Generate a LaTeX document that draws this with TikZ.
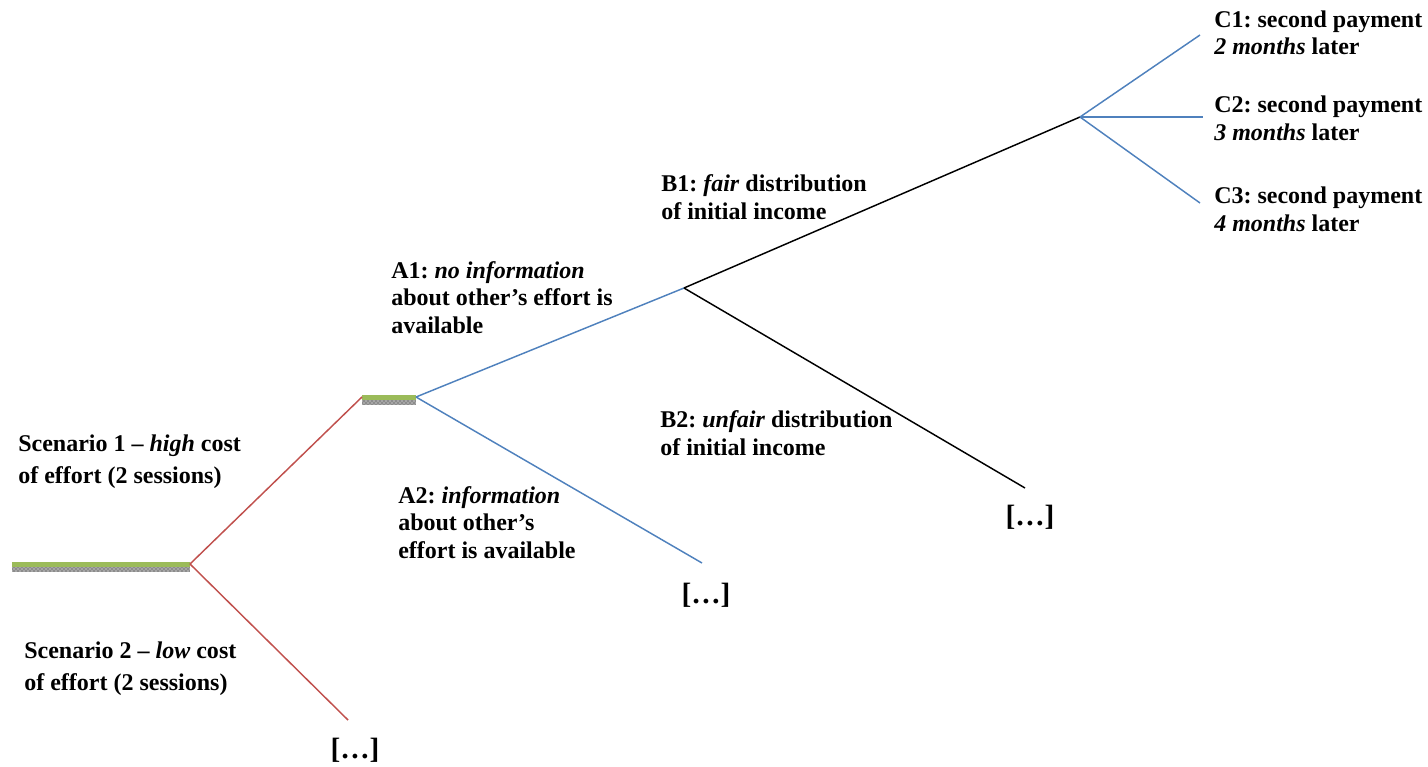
\documentclass[tikz,border=0pt]{standalone}
\usepackage{fontspec}
\setmainfont{Liberation Serif}
\usetikzlibrary{patterns}
\definecolor{redline}{RGB}{192,80,77}
\definecolor{blueline}{RGB}{79,129,189}
\definecolor{greenbar}{RGB}{155,187,89}
\frenchspacing
\tikzset{
  lbl/.style={anchor=base west, inner sep=0pt, align=left, font=\fontsize{18}{20.5}\selectfont\bfseries},
  widelbl/.style={lbl, font=\fontsize{18}{23.5}\selectfont\bfseries},
  more/.style={inner sep=0pt, font=\fontsize{22}{26}\selectfont\bfseries},
  redl/.style={redline, line width=1.1pt},
  bluel/.style={blueline, line width=1.1pt},
  blackl/.style={black, line width=1.1pt},
  shade/.style={fill=black!45, postaction={pattern=crosshatch dots, pattern color=white}}
}
\begin{document}
\begin{tikzpicture}[x=0.75pt, y=-0.75pt]
\useasboundingbox (0,0) rectangle (1428,767);
% branching points and loose ends
\coordinate (root) at (190,564);
\coordinate (s1) at (362,397);
\coordinate (s1r) at (416,397);
\coordinate (s2end) at (348,720);
\coordinate (a1) at (684,288);
\coordinate (a2end) at (702,563);
\coordinate (b1) at (1080,117);
\coordinate (b2end) at (1025,488);
\coordinate (c1end) at (1200,35);
\coordinate (c2end) at (1203,117);
\coordinate (c3end) at (1200,203);
% bars
\path[shade] (12,567) rectangle (190,572);
\fill[greenbar] (12,561.5) rectangle (190,566.5);
\path[shade] (362,400) rectangle (416,405);
\fill[greenbar] (362,395) rectangle (416,400);
% branches
\draw[redl] (root) -- (s1);
\draw[redl] (root) -- (s2end);
\draw[bluel] (s1r) -- (a1);
\draw[bluel] (s1r) -- (a2end);
\draw[blackl] (a1) -- (b1);
\draw[blackl] (a1) -- (b2end);
\draw[bluel] (b1) -- (c1end);
\draw[bluel] (b1) -- (c2end);
\draw[bluel] (b1) -- (c3end);
% labels (placed at the baseline of their last line)
\node[widelbl] (sc1) at (18,483) {Scenario 1 -- \textit{high} cost\\of effort (2 sessions)};
\node[widelbl] (sc2) at (24,690) {Scenario 2 -- \textit{low} cost\\of effort (2 sessions)};
\node[lbl] (la1) at (391,333) {A1: \textit{no information}\\about other’s effort is\\available};
\node[lbl] (la2) at (398,558) {A2: \textit{information}\\about other’s\\effort is available};
\node[lbl] (lb1) at (661,219) {B1: \textit{fair} distribution\\of initial income};
\node[lbl] (lb2) at (660,455) {B2: \textit{unfair} distribution\\of initial income};
\node[lbl] (lc1) at (1214,55) {C1: second payment\\\textit{2 months} later};
\node[lbl] (lc2) at (1214,140) {C2: second payment\\\textit{3 months} later};
\node[lbl] (lc3) at (1214,231) {C3: second payment\\\textit{4 months} later};
\node[more] (m1) at (355,750) {[…]};
\node[more] (m2) at (706,595) {[…]};
\node[more] (m3) at (1030,517) {[…]};
\end{tikzpicture}
\end{document}
